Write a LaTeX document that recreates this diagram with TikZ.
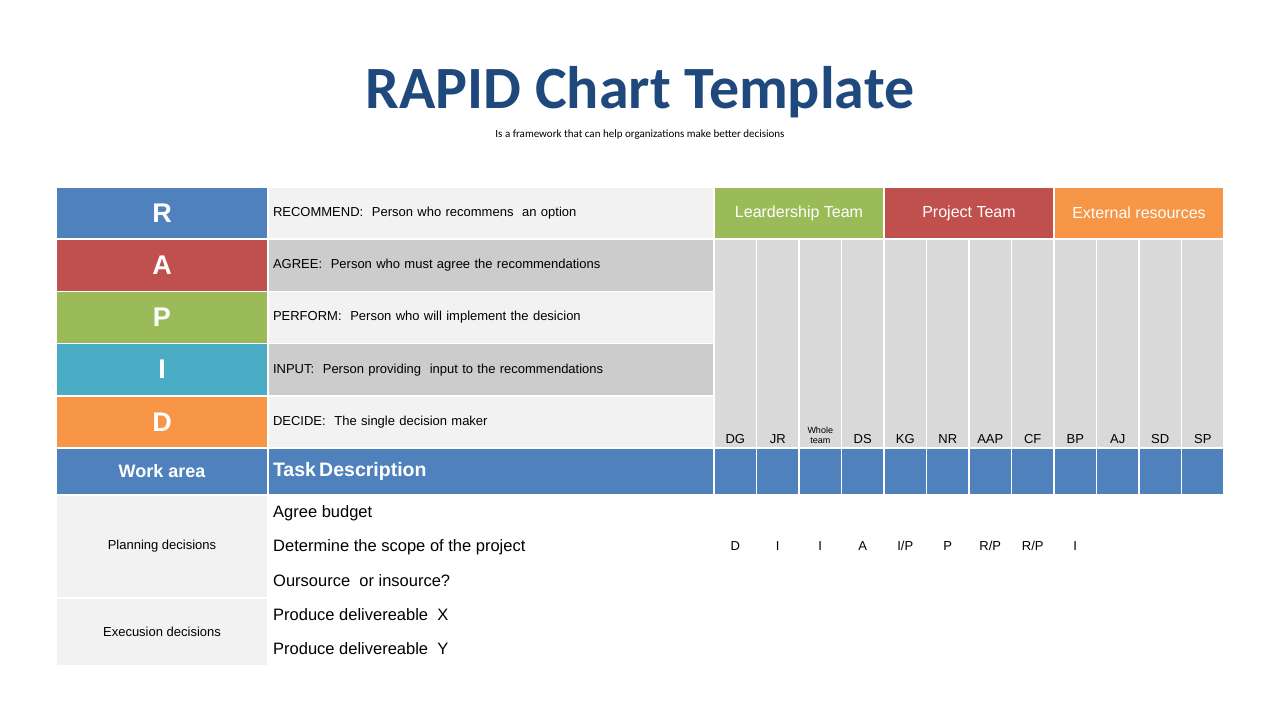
\documentclass[tikz,border=0pt]{standalone}
\usepackage{fontspec}
\setmainfont{Liberation Sans}
\newfontfamily\titlefont{Carlito}
\usetikzlibrary{positioning}

\definecolor{rBlue}{HTML}{4F81BD}
\definecolor{aRed}{HTML}{C0504D}
\definecolor{pGreen}{HTML}{9BBB59}
\definecolor{iTeal}{HTML}{4BACC6}
\definecolor{dOrange}{HTML}{F79646}
\definecolor{titleBlue}{HTML}{1F497D}
\definecolor{lightRow}{HTML}{F2F2F2}
\definecolor{darkRow}{HTML}{CCCCCC}
\definecolor{colGrey}{HTML}{D9D9D9}

\begin{document}
\begin{tikzpicture}[x=1pt,y=-1pt]

\tikzset{cell/.style = {rectangle, draw=white, line width=1.5pt, inner sep=0pt},
  letter/.style = {cell, minimum width=212, minimum height=52.2, text=white, font=\fontsize{27}{30}\selectfont\bfseries},
  desc/.style = {cell, minimum width=446, minimum height=52.2, text width=436, align=left, font=\fontsize{13}{15}\selectfont},
  team/.style = {cell, minimum width=170, minimum height=52.2, text=white, font=\fontsize{16}{18}\selectfont},
  task/.style = {anchor=west, inner sep=0pt, font=\fontsize{16.5}{18}\selectfont},
  val/.style = {inner sep=0pt, font=\fontsize{13}{15}\selectfont}}

\useasboundingbox (0,0) rectangle (1280,720);

\node[text=titleBlue, font=\titlefont\fontsize{60}{64}\selectfont\bfseries] (title) at (640,92) {RAPID Chart Template};
\node[font=\titlefont\fontsize{11}{13}\selectfont] (sub) at (640,135) {Is a framework that can help organizations make better decisions};

% RAPID letters and their meaning
\node[letter, fill=rBlue] (R) at (162,213.1) {R};
\node[letter, fill=aRed] (A) at (162,265.3) {A};
\node[letter, fill=pGreen] (P) at (162,317.5) {P};
\node[letter, fill=iTeal] (I) at (162,369.7) {I};
\node[letter, fill=dOrange] (D) at (162,421.9) {D};

\node[desc, fill=lightRow] (dR) at (491,213.1) {RECOMMEND:\ \ Person who recommens\ \ an option};
\node[desc, fill=darkRow] (dA) at (491,265.3) {AGREE:\ \ Person who must agree the recommendations};
\node[desc, fill=lightRow] (dP) at (491,317.5) {PERFORM:\ \ Person who will implement the desicion};
\node[desc, fill=darkRow] (dI) at (491,369.7) {INPUT:\ \ Person providing\ \ input to the recommendations};
\node[desc, fill=lightRow] (dD) at (491,421.9) {DECIDE:\ \ The single decision maker};

% teams
\node[team, fill=pGreen] (lead) at (799,213.1) {Leardership Team};
\node[team, fill=aRed] (proj) at (969,213.1) {Project Team};
\node[team, fill=dOrange] (ext) at (1139,213.1) {External resources};

% header row
\node[cell, fill=rBlue, minimum width=212, minimum height=47, text=white, font=\fontsize{18}{20}\selectfont\bfseries] (work) at (162,471.5) {Work area};
\node[cell, fill=rBlue, minimum width=446, minimum height=47, text width=436, align=left, text=white, font=\fontsize{19.5}{22}\selectfont\bfseries] (taskhead) at (491,471.5) {Task\,Description};

% people columns
\foreach \i in {0,...,11} {
  \node[cell, fill=colGrey, minimum width=42.5, minimum height=209] (col\i) at (735.25+\i*42.5,343.5) {};
  \node[cell, fill=rBlue, minimum width=42.5, minimum height=47] (hd\i) at (735.25+\i*42.5,471.5) {};
}
\foreach \nm/\i in {DG/0,JR/1,DS/3,KG/4,NR/5,AAP/6,CF/7,BP/8,AJ/9,SD/10,SP/11}
  \node[val, above=5pt of col\i.south] (lb\i) {\nm};
\node[val, align=center, font=\fontsize{9}{10}\selectfont, above=5pt of col2.south] (lb2) {Whole\\team};

% work areas
\node[cell, fill=lightRow, minimum width=212, minimum height=103, font=\fontsize{13}{15}\selectfont] (plan) at (162,546.5) {Planning decisions};
\node[cell, fill=lightRow, minimum width=212, minimum height=68, font=\fontsize{13}{15}\selectfont] (exec) at (162,632) {Execusion decisions};

\node[task] (t1) at (273,513) {Agree budget};
\node[task] (t2) at (273,547) {Determine the scope of the project};
\node[task] (t3) at (273,581) {Oursource\ \ or insource?};
\node[task] (t4) at (273,615) {Produce delivereable\ \ X};
\node[task] (t5) at (273,649) {Produce delivereable\ \ Y};

\foreach \v [count=\i from 0] in {D,I,I,A,I/P,P,R/P,R/P,I}
  \node[val] (v\i) at (735.25+\i*42.5,546) {\v};

\end{tikzpicture}
\end{document}
